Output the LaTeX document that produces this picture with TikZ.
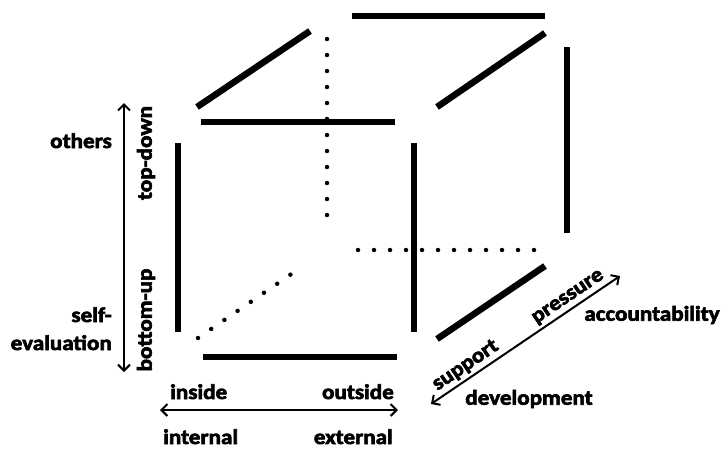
\documentclass[tikz,border=0pt]{standalone}
\usepackage{fontspec}
\setmainfont{Carlito}[BoldFeatures={FakeBold=3, FakeStretch=1.1}]
\usetikzlibrary{arrows.meta}

\tikzset{
  edge/.style={line width=6.5pt, line cap=butt},
  hidden/.style={line width=4.5pt, line cap=round, dash pattern=on 0pt off 16pt},
  axis/.style={line width=2pt, {Straight Barb[length=6pt,width=12pt]}-{Straight Barb[length=6pt,width=12pt]}},
  lbl/.style={font=\fontsize{21}{23}\selectfont\bfseries, inner sep=0pt}
}

\begin{document}
\begin{tikzpicture}[x=1pt, y=-1pt]
    \useasboundingbox (0,0) rectangle (726,448);
    % front face
    \draw[edge] (201,122) -- (395,122);
    \draw[edge] (178,143) -- (178,332);
    \draw[edge] (203,357) -- (397,357);
    \draw[edge] (414,143) -- (414,332);
    % back face
    \draw[edge] (352,16) -- (545,16);
    \draw[edge] (567,47) -- (567,233);
    \draw[hidden] (327,39) -- (327,223);
    \draw[hidden] (358,250) -- (535,250);
    % depth edges
    \draw[edge] (197,107) -- (310,31);
    \draw[edge] (437,107) -- (545,33);
    \draw[edge] (437,339) -- (545,266);
    \draw[hidden] (198,338) -- (303,266);

    % vertical axis
    \coordinate (vtop) at (124,103);
    \coordinate (vbot) at (124,372);
    \draw[axis] (vbot) -- (vtop);
    \node[lbl, rotate=90] (topdown) at (146,153) {top-down};
    \node[lbl, rotate=90] (bottomup) at (146,320) {bottom-up};
    \node[lbl, anchor=base east] (others) at (112,148) {others};
    \node[lbl, anchor=base east] (self) at (112,322) {self-};
    \node[lbl, anchor=base east] (evaluation) at (112,350) {evaluation};

    % horizontal axis
    \coordinate (hleft) at (160,410);
    \coordinate (hright) at (398,410);
    \draw[axis] (hleft) -- (hright);
    \node[lbl, anchor=base west] (inside) at (170,399) {inside};
    \node[lbl, anchor=base east] (outside) at (394,399) {outside};
    \node[lbl, anchor=base west] (internal) at (163,444) {internal};
    \node[lbl, anchor=base east] (external) at (393,444) {external};

    % depth axis
    \coordinate (dfront) at (431,404);
    \coordinate (dback) at (620,276);
    \draw[axis] (dfront) -- (dback)
      node[lbl, pos=0.22, sloped, anchor=south, inner sep=3pt] (support) {support}
      node[lbl, pos=0.76, sloped, anchor=south, inner sep=3pt] (pressure) {pressure};
    \node[lbl] (accountability) at (652,315) {accountability};
    \node[lbl] (development) at (529,399) {development};
\end{tikzpicture}
\end{document}
